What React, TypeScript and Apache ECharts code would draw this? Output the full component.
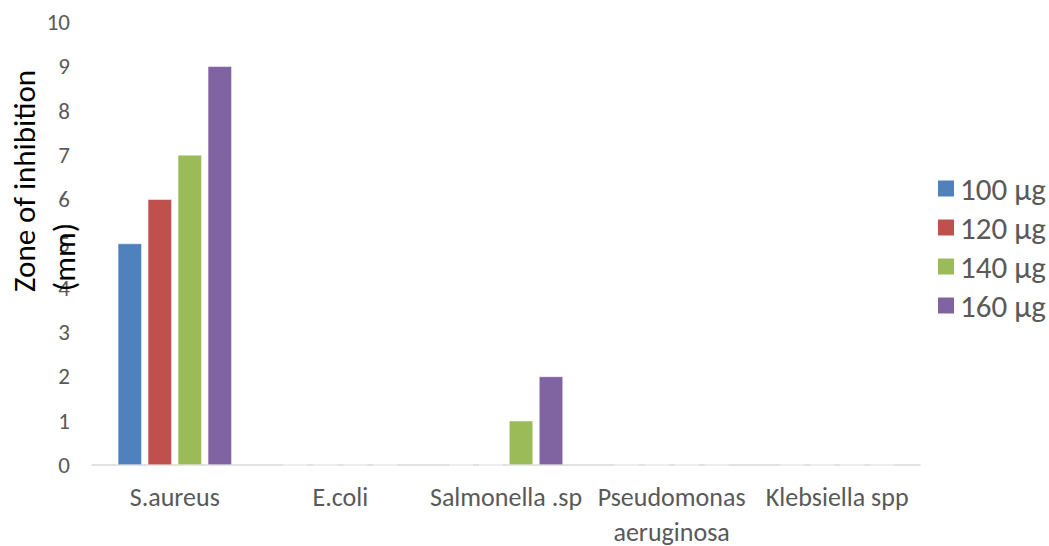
import React, { useEffect, useRef } from "react";
import * as echarts from "echarts";

const categories = ["S.aureus", "E.coli", "Salmonella .sp", "Pseudomonas\naeruginosa", "Klebsiella spp"];
const seriesNames = ["100 µg", "120 µg", "140 µg", "160 µg"];
const s100 = [5, 0, 0, 0, 0];
const s120 = [6, 0, 0, 0, 0];
const s140 = [7, 0, 1, 0, 0];
const s160 = [9, 0, 2, 0, 0];
const colors = ["#4F81BD", "#C0504D", "#9BBB59", "#8064A2"];
const yTicks = { min: 0, max: 10, interval: 1 };

const FONT = "Carlito, Calibri, Lato, sans-serif";

export default function App() {
  const ref = useRef<HTMLDivElement>(null);
  useEffect(() => {
    if (!ref.current) return;
    const chart = echarts.init(ref.current, null, { renderer: "svg" });
    const data = [s100, s120, s140, s160];
    chart.setOption({
      animation: false,
      textStyle: { fontFamily: FONT },
      grid: { left: 92, right: 129, top: 22, bottom: 81, containLabel: false, outerBoundsMode: "none" },
      legend: {
        orient: "vertical",
        left: 931,
        top: 168,
        itemWidth: 18,
        itemHeight: 18,
        itemGap: 8,
        icon: "rect",
        textStyle: { fontSize: 31, lineHeight: 31, color: "#595959", fontFamily: FONT },
        data: seriesNames,
      },
      xAxis: {
        type: "category",
        data: categories,
        axisLine: { show: true, lineStyle: { color: "#D9D9D9", width: 1.5 } },
        axisTick: { show: false },
        axisLabel: { fontSize: 26, color: "#595959", margin: 14, lineHeight: 35, interval: 0, fontFamily: FONT },
      },
      yAxis: {
        type: "value",
        min: yTicks.min,
        max: yTicks.max,
        interval: yTicks.interval,
        axisLine: { show: false },
        axisTick: { show: false },
        splitLine: { show: false },
        axisLabel: { fontSize: 23, color: "#595959", margin: 22, fontFamily: FONT },
      },
      graphic: [
        {
          type: "text",
          x: 24,
          y: 181,
          rotation: Math.PI / 2,
          z: 100,
          style: { text: "Zone of inhibition", font: `31px ${FONT}`, fill: "#000", align: "center", verticalAlign: "middle" },
        },
        {
          type: "text",
          x: 64,
          y: 257,
          rotation: Math.PI / 2,
          z: 100,
          style: { text: "(mm)", font: `31px ${FONT}`, fill: "#000", align: "center", verticalAlign: "middle" },
        },
      ],
      series: seriesNames.map((name, i) => ({
        name,
        type: "bar",
        data: data[i],
        barWidth: 24,
        barGap: "25%",
        itemStyle: { color: colors[i], borderColor: "#fff", borderWidth: 0.5 },
      })),
    });
    return () => chart.dispose();
  }, []);
  return <div ref={ref} style={{ width: 1049, height: 546, position: "absolute", left: 0, top: 0 }} />;
}
